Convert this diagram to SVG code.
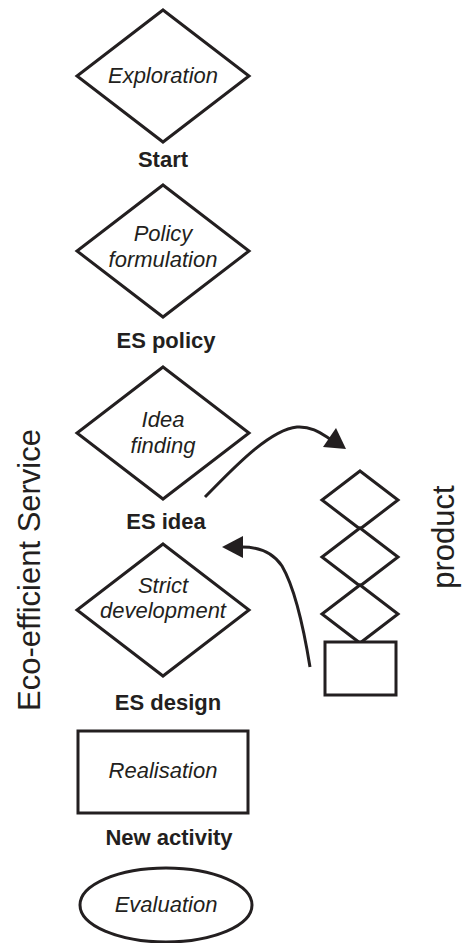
<svg xmlns="http://www.w3.org/2000/svg" width="462" height="943" viewBox="0 0 462 943">
<defs>
<style>
.shape{fill:#fff;stroke:#231f20;stroke-width:3;stroke-linejoin:miter}
.it{font-family:"Liberation Sans",Arial,Helvetica,sans-serif;font-style:italic;font-size:22px;fill:#231f20;text-anchor:middle}
.lb{font-family:"Liberation Sans",Arial,Helvetica,sans-serif;font-weight:bold;font-size:22px;fill:#231f20;text-anchor:middle}
.side{font-family:"Liberation Sans",Arial,Helvetica,sans-serif;font-size:31px;fill:#231f20;text-anchor:middle}
.conn{fill:none;stroke:#231f20;stroke-width:3}
.head{fill:#231f20;stroke:none}
</style>
</defs>
<rect width="462" height="943" fill="#fff"/>
<g id="side-labels">
<text class="side" transform="translate(40,570) rotate(-90)">Eco-efficient Service</text>
<text class="side" transform="translate(454,537) rotate(-90)">product</text>
</g>
<g id="exploration">
<polygon class="shape" points="163,10 249,76 163,142 77,76"/>
<text class="it" x="163" y="83">Exploration</text>
</g>
<g id="start"><text class="lb" x="163" y="167">Start</text></g>
<g id="policy-formulation">
<polygon class="shape" points="163,185 249,251 163,317 77,251"/>
<text class="it" x="163" y="241">Policy</text>
<text class="it" x="163" y="267">formulation</text>
</g>
<g id="es-policy"><text class="lb" x="166" y="348">ES policy</text></g>
<g id="idea-finding">
<polygon class="shape" points="163,367 249,433 163,499 77,433"/>
<text class="it" x="163" y="427">Idea</text>
<text class="it" x="163" y="453">finding</text>
</g>
<g id="es-idea"><text class="lb" x="166" y="529">ES idea</text></g>
<g id="strict-development">
<polygon class="shape" points="163,544 249,610 163,676 77,610"/>
<text class="it" x="163" y="593">Strict</text>
<text class="it" x="163" y="618">development</text>
</g>
<g id="es-design"><text class="lb" x="168" y="710">ES design</text></g>
<g id="realisation">
<rect class="shape" x="78" y="731" width="170" height="82"/>
<text class="it" x="163" y="778">Realisation</text>
</g>
<g id="new-activity"><text class="lb" x="169" y="845">New activity</text></g>
<g id="evaluation">
<ellipse class="shape" cx="166" cy="905" rx="86" ry="37"/>
<text class="it" x="166" y="912">Evaluation</text>
</g>
<g id="product-stack">
<polygon class="shape" points="360,471 398,500 360,529 322,500"/>
<polygon class="shape" points="360,528 398,557 360,586 322,557"/>
<polygon class="shape" points="360,585 398,614 360,643 322,614"/>
<rect class="shape" x="325" y="642" width="71" height="53"/>
</g>
<g id="connectors">
<path class="conn" d="M205,497 C230,472 268,430 297,427 C312,426 322,434 330,439"/>
<polygon class="head" points="346,449 323,447 336,428"/>
<path class="conn" d="M310,667 C304,630 296,590 282,566 C272,551 258,547 242,547"/>
<polygon class="head" points="222,547 243,536 243,558"/>
</g>
</svg>
